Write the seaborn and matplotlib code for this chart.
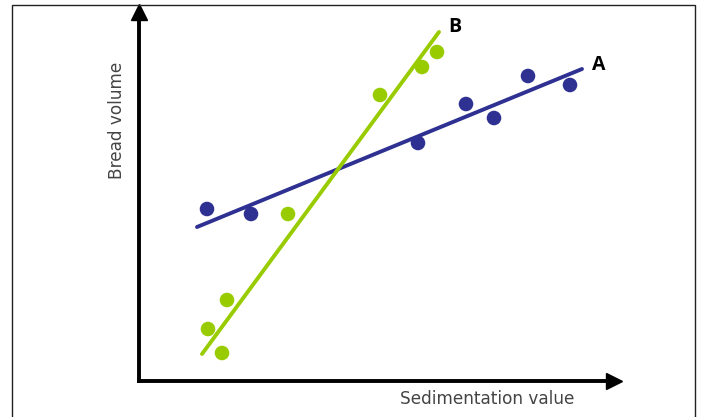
import matplotlib
matplotlib.use("Agg")
import matplotlib.pyplot as plt
import seaborn as sns
import pandas as pd
from matplotlib.patches import Rectangle

# ---- data (arbitrary units, origin at axes corner) ----
a_x = [68, 112, 279, 327, 355, 389, 431]
a_y = [172, 167, 238, 277, 263, 305, 296]
b_x = [69, 88, 83, 149, 241, 283, 298]
b_y = [52, 81, 28, 167, 286, 314, 329]
line_a_x = [58, 443]
line_a_y = [154, 312]
line_b_x = [63, 300]
line_b_y = [27, 349]
series_labels = ["A", "B"]
x_label = "Sedimentation value"
y_label = "Bread volume"

blue = "#2e3192"
green = "#99cc00"

sns.set_theme(style="white")
plt.rcParams["font.family"] = ["DejaVu Sans"]

W, H = 701, 417
fig = plt.figure(figsize=(W / 100, H / 100), dpi=100)
fig.patch.set_facecolor("white")

x0, x1 = 139, 614
y0, y1 = 381, 12
ax = fig.add_axes([x0 / W, 1 - y0 / H, (x1 - x0) / W, (y0 - y1) / H])
ax.set_xlim(0, x1 - x0)
ax.set_ylim(0, y0 - y1)
ax.patch.set_alpha(0)

pts = pd.DataFrame({
    "x": a_x + b_x,
    "y": a_y + b_y,
    "s": [series_labels[0]] * len(a_x) + [series_labels[1]] * len(b_x),
})
lines = pd.DataFrame({
    "x": line_a_x + line_b_x,
    "y": line_a_y + line_b_y,
    "s": [series_labels[0]] * 2 + [series_labels[1]] * 2,
})
pal = {series_labels[0]: blue, series_labels[1]: green}

sns.lineplot(data=lines, x="x", y="y", hue="s", palette=pal, lw=2.8,
             legend=False, ax=ax, sort=False, estimator=None, zorder=2)
sns.scatterplot(data=pts, x="x", y="y", hue="s", palette=pal, s=110,
                linewidth=0, legend=False, ax=ax, zorder=3)

# end labels
ax.text(line_a_x[1] + 10, line_a_y[1] + 4, series_labels[0], fontsize=14,
        fontweight="bold", family="Open Sans", color="black", ha="left", va="center")
ax.text(line_b_x[1] + 9, line_b_y[1] + 5, series_labels[1], fontsize=14,
        fontweight="bold", family="Open Sans", color="black", ha="left", va="center")

# axes with arrows
for side in ["top", "right"]:
    ax.spines[side].set_visible(False)
for side in ["left", "bottom"]:
    ax.spines[side].set_linewidth(2.8)
    ax.spines[side].set_color("black")
ax.set_xticks([])
ax.set_yticks([])
ax.plot(1, 0, ">", color="black", ms=11, transform=ax.transAxes, clip_on=False)
ax.plot(0, 1, "^", color="black", ms=11, transform=ax.transAxes, clip_on=False)

ax.set_xlabel("")
ax.set_ylabel("")
fig.text(487 / W, 1 - 399 / H, x_label, fontsize=12.2, color="#444444",
         ha="center", va="center")
fig.text(117 / W, 1 - 120 / H, y_label, fontsize=12.2, color="#444444",
         ha="center", va="center", rotation=90)

# outer frame
fig.add_artist(Rectangle((11.5 / W, -0.05), (695 - 11.5) / W, 1.05 - 5.5 / H,
                         transform=fig.transFigure, fill=False,
                         edgecolor="#222222", lw=1.0))

fig.savefig("out.png", dpi=100)
